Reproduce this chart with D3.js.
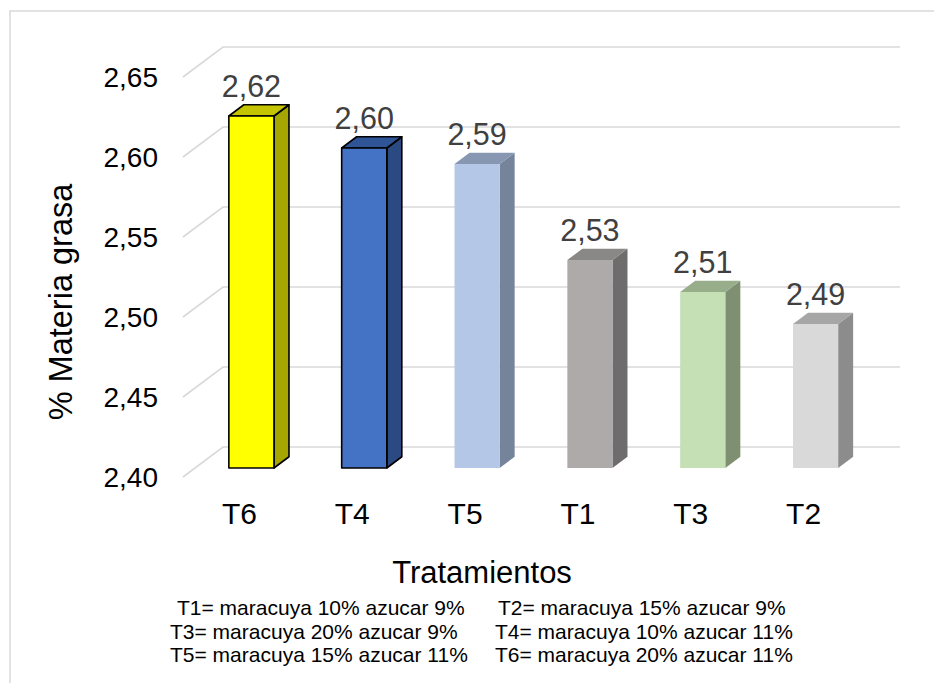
<!DOCTYPE html>
<html>
<head>
<meta charset="utf-8">
<script src="https://cdn.jsdelivr.net/npm/d3@7"></script>
<style>
  html, body { margin: 0; padding: 0; background: #fff; }
  svg { display: block; font-family: "Liberation Sans", Arial, sans-serif; }
</style>
</head>
<body>
<svg id="chart" width="934" height="683"></svg>
<script>
// Treatments, in the order they are plotted
const categories = ["T6", "T4", "T5", "T1", "T3", "T2"];
// Fat content (%) per treatment
const values = [2.62, 2.60, 2.59, 2.53, 2.51, 2.49];
// Face colours of each 3D column: front, right side, top
const frontColors = ["#FFFF00", "#4472C4", "#B4C7E7", "#AEAAAA", "#C5E0B4", "#D9D9D9"];
const sideColors  = ["#A6A600", "#2C4A82", "#76849B", "#6E6C6C", "#7E8F72", "#8C8C8C"];
const topColors   = ["#C4C400", "#2F5597", "#8797B2", "#8A8787", "#98AD8A", "#A6A6A6"];
const outlineColors = ["#000000", "#000000", null, null, null, null];
// Value axis ticks
const yTicks = [2.40, 2.45, 2.50, 2.55, 2.60, 2.65];
// Treatment key printed under the axis title
const notesLeft  = ["T1= maracuya 10% azucar 9%", "T3= maracuya 20% azucar 9%", "T5= maracuya 15% azucar 11%"];
const notesRight = ["T2= maracuya 15% azucar 9%", "T4= maracuya 10% azucar 11%", "T6= maracuya 20% azucar 11%"];

const svg = d3.select("#chart");
const locale = d3.formatLocale({ decimal: ",", thousands: ".", grouping: [3], currency: ["", ""] });
const fmt = locale.format(".2f");

// Front plane of the 3D plot box and the depth vector to its back wall
const DX = 40, DY = -30;
const Z0 = 0.3, Z1 = 0.675;           // column depth, as fractions of the box depth

const x = d3.scaleBand().domain(categories).range([183, 860]).paddingInner(0.6).paddingOuter(0.3);
const y = d3.scaleLinear().domain([2.40, 2.65]).range([477, 77]);

// Outer frame
svg.append("rect")
  .attr("x", 10).attr("y", 11).attr("width", 1000).attr("height", 1000)
  .attr("fill", "none").attr("stroke", "#D9D9D9").attr("stroke-width", 1.5);

// Gridlines: side wall diagonal + back wall horizontal
const grid = svg.append("g").attr("stroke", "#D9D9D9").attr("stroke-width", 1.6).attr("fill", "none");
yTicks.forEach(t => {
  const yf = y(t);
  grid.append("path")
    .attr("d", `M${x.range()[0]},${yf}L${x.range()[0] + DX},${yf + DY}L${x.range()[1] + DX},${yf + DY}`);
});

// Columns
const bars = svg.append("g");
categories.forEach((c, i) => {
  const v = values[i];
  const bw = x.bandwidth();
  const xl = x(c) + DX * Z0, xr = xl + bw;
  const yb = y(2.40) + DY * Z0, yt = y(v) + DY * Z0;
  const ddx = DX * (Z1 - Z0), ddy = DY * (Z1 - Z0);
  const g = bars.append("g");
  const stroke = outlineColors[i];
  const apply = sel => {
    if (stroke) sel.attr("stroke", stroke).attr("stroke-width", 1.6).attr("stroke-linejoin", "round");
    return sel;
  };
  apply(g.append("polygon")
    .attr("points", [[xr, yt], [xr + ddx, yt + ddy], [xr + ddx, yb + ddy], [xr, yb]].join(" "))
    .attr("fill", sideColors[i]));
  apply(g.append("polygon")
    .attr("points", [[xl, yt], [xl + ddx, yt + ddy], [xr + ddx, yt + ddy], [xr, yt]].join(" "))
    .attr("fill", topColors[i]));
  apply(g.append("rect")
    .attr("x", xl).attr("y", yt).attr("width", bw).attr("height", yb - yt)
    .attr("fill", frontColors[i]));

  // Value label above the column
  svg.append("text")
    .attr("x", xl + bw / 2)
    .attr("y", y(v) + DY * Z1 - 8)
    .attr("text-anchor", "middle")
    .attr("font-size", 30.5)
    .attr("fill", "#404040")
    .text(fmt(v));
});

// Value axis labels
svg.append("g").selectAll("text").data(yTicks).join("text")
  .attr("x", 158)
  .attr("y", d => y(d))
  .attr("dy", "0.35em")
  .attr("text-anchor", "end")
  .attr("font-size", 28)
  .attr("fill", "#000")
  .text(d => fmt(d));

// Category labels on the front plane
svg.append("g").selectAll("text").data(categories).join("text")
  .attr("x", d => x(d) + x.bandwidth() / 2)
  .attr("y", 524)
  .attr("text-anchor", "middle")
  .attr("font-size", 30)
  .attr("fill", "#000")
  .text(d => d);

// Axis titles
svg.append("text")
  .attr("transform", "translate(72,302) rotate(-90)")
  .attr("text-anchor", "middle")
  .attr("font-size", 32.5)
  .attr("fill", "#000")
  .text("% Materia grasa");

svg.append("text")
  .attr("x", 482).attr("y", 583)
  .attr("text-anchor", "middle")
  .attr("font-size", 31)
  .attr("fill", "#000")
  .text("Tratamientos");

// Treatment key
const leftX = [177, 170, 170], rightX = [498, 495, 495];
const baseY = [615, 638.5, 662];
notesLeft.forEach((t, i) => {
  svg.append("text").attr("x", leftX[i]).attr("y", baseY[i])
    .attr("font-size", 21).attr("fill", "#000").text(t);
});
notesRight.forEach((t, i) => {
  svg.append("text").attr("x", rightX[i]).attr("y", baseY[i])
    .attr("font-size", 21).attr("fill", "#000").text(t);
});
</script>
</body>
</html>
